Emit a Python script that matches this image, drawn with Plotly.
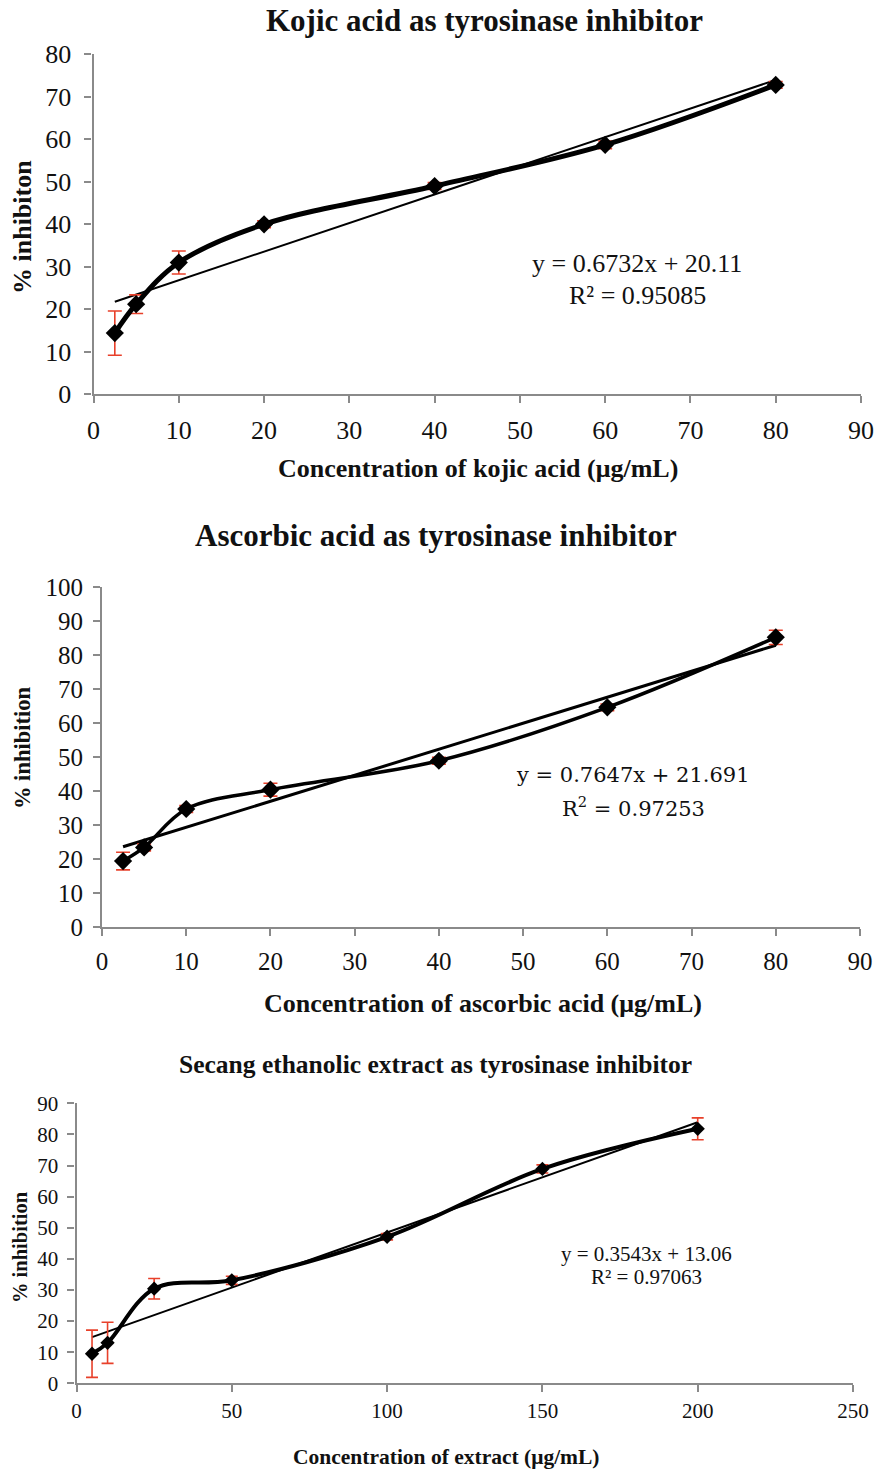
import plotly.graph_objects as go

W, H = 876, 1471

# ---------------- data ----------------
kojic_x = [2.5, 5, 10, 20, 40, 60, 80]
kojic_y = [14.4, 21.2, 31.0, 40.0, 49.0, 58.7, 72.8]
kojic_err = [5.2, 2.2, 2.7, 0.8, 0.8, 0.9, 0.8]
kojic_eq = (0.6732, 20.11)
kojic_eq_text = ["y = 0.6732x + 20.11", "R² = 0.95085"]

asc_x = [2.5, 5, 10, 20, 40, 60, 80]
asc_y = [19.4, 23.4, 34.7, 40.4, 48.9, 64.6, 85.2]
asc_err = [2.6, 1.0, 1.0, 1.9, 1.0, 1.0, 2.1]
asc_eq = (0.7647, 21.691)
asc_eq_text = ["y = 0.7647x + 21.691", "R<sup>2</sup> = 0.97253"]

sec_x = [5, 10, 25, 50, 100, 150, 200]
sec_y = [9.5, 13.0, 30.4, 33.1, 47.1, 68.9, 81.8]
sec_err = [7.6, 6.6, 3.3, 1.3, 1.0, 1.3, 3.5]
sec_eq = (0.3543, 13.06)
sec_eq_text = ["y = 0.3543x + 13.06", "R² = 0.97063"]

titles = ["Kojic acid as tyrosinase inhibitor",
          "Ascorbic acid as tyrosinase inhibitor",
          "Secang ethanolic extract as tyrosinase inhibitor"]
ytitles = ["% inhibiton", "% inhibition", "% inhibition"]
xtitles = ["Concentration of kojic acid (μg/mL)",
           "Concentration of ascorbic acid (μg/mL)",
           "Concentration of extract (μg/mL)"]

# ---------------- styling / layout (page pixels) ----------------
SERIF = "Liberation Serif, Times New Roman, serif"
AX = "#8a8a8a"
RED = "#e8402a"

panels = [
    dict(x=kojic_x, y=kojic_y, err=kojic_err, eq=kojic_eq, eqt=kojic_eq_text,
         px=(93.5, 861), py=(394.3, 54.3), xr=(0, 90), yr=(0, 80), xd=10, yd=10,
         tickfs=26, ystand=8, xstand=4, lw=5, tw=2, ms=14, ew=7,
         title=(485, 21, 31), ytitle=(22, 227, 26), xtitle=(478, 468, 26),
         eqpos=(637, 263, 295, 26, SERIF)),
    dict(x=asc_x, y=asc_y, err=asc_err, eq=asc_eq, eqt=asc_eq_text,
         px=(102, 860), py=(927, 587), xr=(0, 90), yr=(0, 100), xd=10, yd=10,
         tickfs=25, ystand=5, xstand=4, lw=3.5, tw=3, ms=14, ew=7,
         title=(436, 535, 31), ytitle=(22, 748, 22.5), xtitle=(483, 1003, 26),
         eqpos=(633, 775, 807, 21, "DejaVu Serif, serif")),
    dict(x=sec_x, y=sec_y, err=sec_err, eq=sec_eq, eqt=sec_eq_text,
         px=(76.5, 853), py=(1383.3, 1103.3), xr=(0, 250), yr=(0, 90), xd=50, yd=10,
         tickfs=21, ystand=5, xstand=0, lw=4, tw=2, ms=11, ew=6,
         title=(435, 1064, 25.5), ytitle=(20, 1247, 20.5), xtitle=(446, 1457, 21.5),
         eqpos=(646, 1254, 1277, 21, SERIF)),
]

fig = go.Figure()
annotations = []


def fx(p):
    return p / W


def fy(p):
    return 1 - p / H


for i, p in enumerate(panels):
    n = "" if i == 0 else str(i + 1)
    xa, ya = "x" + n, "y" + n
    slope, icpt = p["eq"]
    xs = [p["x"][0], p["x"][-1]]
    # linear trendline (from the displayed equation)
    fig.add_trace(go.Scatter(x=xs, y=[slope * v + icpt for v in xs], mode="lines",
                             line=dict(color="black", width=p["tw"]),
                             xaxis=xa, yaxis=ya, showlegend=False, hoverinfo="skip"))
    # error bars
    fig.add_trace(go.Scatter(x=p["x"], y=p["y"], mode="markers",
                             marker=dict(color="rgba(0,0,0,0)", size=1),
                             error_y=dict(type="data", array=p["err"], visible=True,
                                          color=RED, thickness=1.6, width=p["ew"]),
                             xaxis=xa, yaxis=ya, showlegend=False, hoverinfo="skip"))
    # smoothed data line
    fig.add_trace(go.Scatter(x=p["x"], y=p["y"], mode="lines+markers",
                             line=dict(color="black", width=p["lw"], shape="spline", smoothing=1.0),
                             marker=dict(symbol="diamond", size=p["ms"], color="black"),
                             xaxis=xa, yaxis=ya, showlegend=False))

    axcommon = dict(showline=True, linecolor=AX, linewidth=2.2, ticks="outside",
                    ticklen=7, tickwidth=2, tickcolor=AX, showgrid=False, zeroline=False,
                    automargin=False,
                    tickfont=dict(family=SERIF, size=p["tickfs"], color="#111"))
    fig.update_layout(**{
        ("xaxis" + n): dict(domain=[fx(p["px"][0]), fx(p["px"][1])], range=list(p["xr"]),
                            dtick=p["xd"], tick0=0, anchor=ya,
                            ticklabelstandoff=p["xstand"], **axcommon),
        ("yaxis" + n): dict(domain=[fy(p["py"][0]), fy(p["py"][1])], range=list(p["yr"]),
                            dtick=p["yd"], tick0=0, anchor=xa,
                            ticklabelstandoff=p["ystand"], **axcommon),
    })

    tx, ty, ts = p["title"]
    annotations.append(dict(text="<b>%s</b>" % titles[i], x=fx(tx), y=fy(ty),
                            font=dict(family=SERIF, size=ts, color="#111")))
    yx, yy, ys = p["ytitle"]
    annotations.append(dict(text="<b>%s</b>" % ytitles[i], x=fx(yx), y=fy(yy), textangle=-90,
                            font=dict(family=SERIF, size=ys, color="#111")))
    xx, xy, xs_ = p["xtitle"]
    annotations.append(dict(text="<b>%s</b>" % xtitles[i], x=fx(xx), y=fy(xy),
                            font=dict(family=SERIF, size=xs_, color="#111")))
    ex, ey1, ey2, es, ef = p["eqpos"]
    for t, yy_ in zip(p["eqt"], (ey1, ey2)):
        annotations.append(dict(text=t, x=fx(ex), y=fy(yy_),
                                font=dict(family=ef, size=es, color="#111")))

for a in annotations:
    a.update(xref="paper", yref="paper", showarrow=False, xanchor="center", yanchor="middle")

fig.update_layout(width=W, height=H,
                  margin=dict(l=0, r=0, t=0, b=0, pad=0, autoexpand=False),
                  paper_bgcolor="white", plot_bgcolor="white",
                  annotations=annotations, showlegend=False)

# remove the default 8px page margin so the figure fills the window exactly
fig.write_html("out.html",
               config={"displayModeBar": False},
               post_script="document.body.style.margin='0';document.body.style.overflow='hidden';")
